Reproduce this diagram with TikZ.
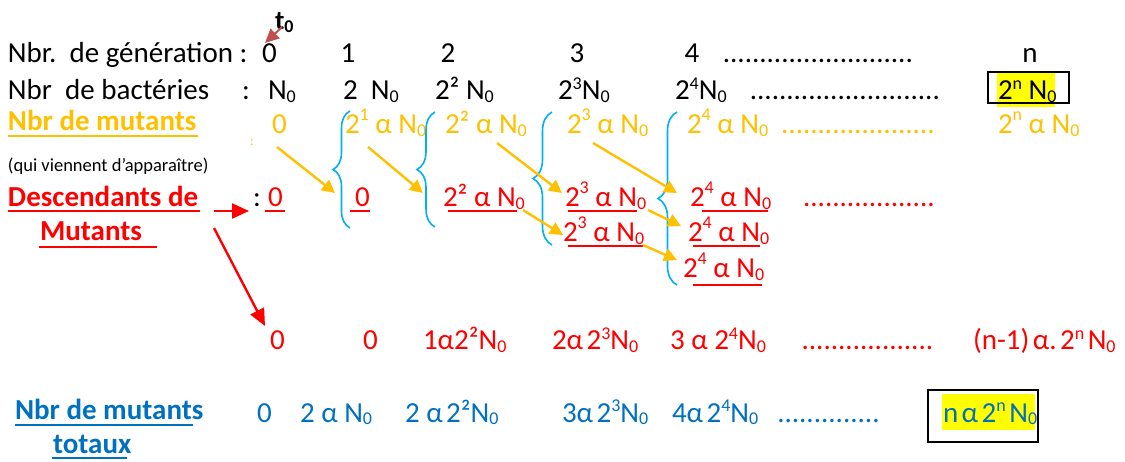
\documentclass[tikz,border=0pt]{standalone}
\usepackage{fontspec}
\setmainfont{Carlito}
\usetikzlibrary{arrows.meta,decorations.pathreplacing}

\definecolor{myorange}{HTML}{FFC000}
\definecolor{myred}{HTML}{FF0000}
\definecolor{myblue}{HTML}{0070C0}
\definecolor{mycyan}{HTML}{00B0F0}
\definecolor{tzero}{HTML}{C0504D}
\definecolor{hl}{HTML}{FFFF00}

\newcommand{\sps}[1]{\raisebox{0.36em}{\fontsize{18}{18}\selectfont #1}}
\newcommand{\spo}[1]{\raisebox{0.48em}{\fontsize{18}{18}\selectfont #1}}
\newcommand{\sbs}[1]{\raisebox{-0.1em}{\fontsize{18}{18}\selectfont #1}}
\newcommand{\Nz}{N\sbs{0}}
\newcommand{\tsp}{\hspace{0.12em}}
\newcommand{\dotrun}[1]{\hbox to #1{\cleaders\hbox{.}\hfill}}

\tikzset{
  txt/.style={inner sep=0pt, outer sep=0pt, anchor=base west, font=\fontsize{29}{34}\selectfont},
  ctxt/.style={txt, anchor=base},
  bld/.style={txt, font=\fontsize{29}{34}\selectfont\bfseries},
  oarr/.style={draw=myorange, line width=2.4pt, -{Triangle[length=13pt,width=13pt]}},
  rarr/.style={draw=myred, line width=2.4pt, -{Triangle[length=17pt,width=15pt]}},
  brc/.style={draw=mycyan, line width=1.6pt, decorate, decoration={brace, amplitude=#1}},
  uline/.style={line width=2pt},
}

\begin{document}
\begin{tikzpicture}[x=1pt,y=-1pt]
\useasboundingbox (0,0) rectangle (1125,462);

% t0
\node[txt, font=\fontsize{27}{30}\selectfont\bfseries] (t0) at (275,30) {t\sbs{0}};
\coordinate (t0s) at (282,27);
\coordinate (t0e) at (265,43);
\draw[draw=tzero, line width=2pt, -{Triangle[length=14pt,width=13pt]}] (t0s) -- (t0e);

% Row 1
\node[txt] (r1h) at (8,63) {Nbr.\ \ de génération :};
\node[txt] (g0) at (262,63) {0};
\node[ctxt] (g1) at (348,63) {1};
\node[ctxt] (g2) at (448,63) {2};
\node[ctxt] (g3) at (577,63) {3};
\node[ctxt] (g4) at (692,63) {4};
\node[txt] (gd) at (720,63) {\dotrun{196pt}};
\node[ctxt] (gn) at (1030,63) {n};

% Row 2
\node[txt] (r2h) at (8,100) {Nbr\ \ de bactéries};
\node[txt] (r2c) at (242,100) {:};
\node[txt] (b0) at (268,100) {\Nz};
\node[txt] (b1) at (343,100) {2\ \ \Nz};
\node[txt] (b2) at (435,100) {2² \Nz};
\node[txt] (b3) at (558,100) {2\sps{3}\Nz};
\node[txt] (b4) at (675,100) {2\sps{4}\Nz};
\node[txt] (bd) at (748,100) {\dotrun{194pt}};
\fill[hl] (997,72) rectangle (1055,107);
\draw[line width=1.6pt] (988,72) rectangle (1069,103);
\node[txt] (bn) at (998,100) {2\sps{n} \Nz};

% Row 3 (orange)
\node[bld, text=myorange] (r3h) at (8,131) {Nbr de mutants};
\draw[uline, myorange] (8,136) -- (198,136);
\node[txt, text=myorange, font=\fontsize{13}{14}\selectfont] (r3c) at (250,146) {:};
\node[txt, text=myorange] (m0) at (272,134) {0};
\node[txt, text=myorange] (m1) at (345,134) {2\spo{1} α \Nz};
\node[txt, text=myorange] (m2) at (445,134) {2² α \Nz};
\node[txt, text=myorange] (m3) at (567,134) {2\spo{3} α \Nz};
\node[txt, text=myorange] (m4) at (687,134) {2\spo{4} α \Nz};
\node[txt, text=myorange] (md) at (778,134) {\dotrun{160pt}};
\node[txt, text=myorange] (mn) at (998,134) {2\spo{n} α \Nz};

\node[txt, font=\fontsize{18.5}{20}\selectfont] (qui) at (8,172) {(qui viennent d’apparaître)};

% Descendants
\node[bld, text=myred] (dh1) at (8,207) {Descendants de};
\draw[uline, myred] (8,211.5) -- (200,211.5);
\node[bld, text=myred] (dh2) at (40,241) {Mutants};
\draw[uline, myred] (39,247) -- (157,247);
\node[txt] (dc) at (253,207) {:};
\node[txt, text=myred] (d0) at (268,207) {0};
\draw[uline, myred] (265,211.5) -- (285,211.5);
\node[txt, text=myred] (d1) at (355,207) {0};
\draw[uline, myred] (350,211.5) -- (370,211.5);
\node[txt, text=myred] (d2) at (443,207) {2² α \Nz};
\draw[uline, myred] (448,211.5) -- (517,211.5);
\node[txt, text=myred] (d3a) at (565,207) {2\spo{3} α \Nz};
\draw[uline, myred] (568,211.5) -- (637,211.5);
\node[txt, text=myred] (d4a) at (690,207) {2\spo{4} α \Nz};
\draw[uline, myred] (702,211.5) -- (768,211.5);
\node[txt, text=myred] (dd) at (800,207) {\dotrun{138pt}};
\node[txt, text=myred] (d3b) at (563,242) {2\spo{3} α \Nz};
\draw[uline, myred] (568,246) -- (643,246);
\node[txt, text=myred] (d4b) at (688,242) {2\spo{4} α \Nz};
\draw[uline, myred] (693,246) -- (760,246);
\node[txt, text=myred] (d4c) at (683,278) {2\spo{4} α \Nz};
\draw[uline, myred] (693,285) -- (762,285);

% braces
\draw[brc=17pt] (350,228) -- (350,111);
\draw[brc=18pt] (435,227) -- (435,112);
\draw[brc=19pt] (552,245) -- (552,112);
\draw[brc=19pt] (677,285) -- (677,112);

% orange arrows
\coordinate (a1s) at (277,147); \coordinate (a1e) at (335,193);
\coordinate (a2s) at (368,147); \coordinate (a2e) at (423,193);
\coordinate (a3s) at (497,143); \coordinate (a3e) at (562,193);
\coordinate (a4s) at (593,143); \coordinate (a4e) at (677,193);
\coordinate (a5s) at (523,210); \coordinate (a5e) at (563,235);
\coordinate (a6s) at (648,210); \coordinate (a6e) at (681,226);
\coordinate (a7s) at (643,245); \coordinate (a7e) at (677,260);
\draw[oarr] (a1s) -- (a1e);
\draw[oarr] (a2s) -- (a2e);
\draw[oarr] (a3s) -- (a3e);
\draw[oarr] (a4s) -- (a4e);
\draw[oarr] (a5s) -- (a5e);
\draw[oarr] (a6s) -- (a6e);
\draw[oarr] (a7s) -- (a7e);

% red arrows
\coordinate (r1s) at (214,211); \coordinate (r1e) at (249,211);
\coordinate (r2s) at (214,228); \coordinate (r2e) at (265,326);
\draw[rarr] (r1s) -- (r1e);
\draw[rarr] (r2s) -- (r2e);

% red totals row
\node[txt, text=myred] (s0) at (270,350) {0};
\node[txt, text=myred] (s1) at (363,350) {0};
\node[txt, text=myred] (s2) at (423,350) {1α2²\Nz};
\node[txt, text=myred] (s3) at (552,350) {2α\tsp 2\sps{3}\Nz};
\node[txt, text=myred] (s4) at (670,350) {3 α 2\sps{4}\Nz};
\node[txt, text=myred] (sd) at (798,350) {\dotrun{139pt}};
\node[txt, text=myred] (sn) at (973,350) {(n-1)\tsp α.\tsp 2\sps{n}\tsp \Nz};

% blue totals
\node[bld, text=myblue] (th1) at (15,420) {Nbr de mutants};
\draw[uline, myblue] (15,425) -- (193,425);
\node[bld, text=myblue] (th2) at (53,453) {totaux};
\draw[uline, myblue] (52,458) -- (127,458);
\node[txt, text=myblue] (t0v) at (257,422) {0};
\node[txt, text=myblue] (t1v) at (300,422) {2 α \Nz};
\node[txt, text=myblue] (t2v) at (405,422) {2 α\tsp 2²\Nz};
\node[txt, text=myblue] (t3v) at (562,422) {3α\tsp 2\sps{3}\Nz};
\node[txt, text=myblue] (t4v) at (672,422) {4α\tsp 2\sps{4}\Nz};
\node[txt, text=myblue] (tdv) at (775,422) {\dotrun{107pt}};
\fill[hl] (942,394) rectangle (1035,430);
\draw[line width=1.6pt] (928,390) rectangle (1038,442);
\node[txt, text=myblue] (tnv) at (943,422) {n\tsp α\tsp 2\sps{n}\tsp \Nz};
\end{tikzpicture}
\end{document}
